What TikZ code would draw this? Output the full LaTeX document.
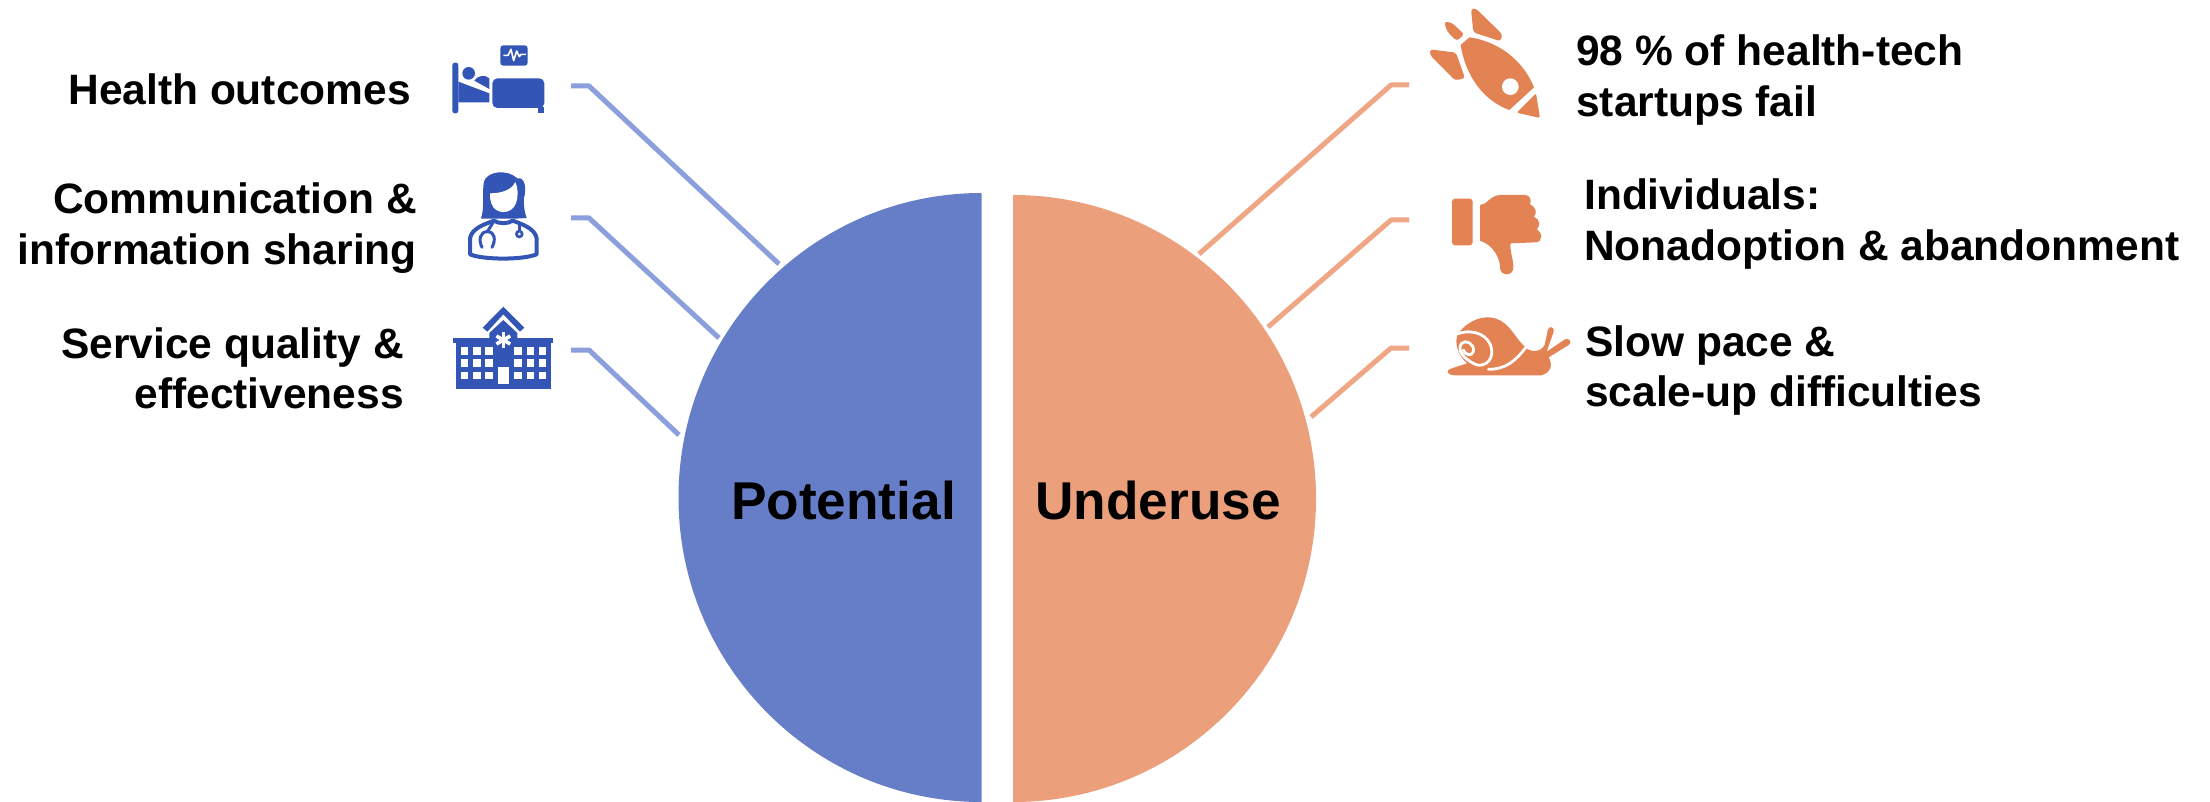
\documentclass[tikz,border=0pt]{standalone}
\usepackage{fontspec}
\setmainfont{Liberation Sans}
\definecolor{blueC}{RGB}{102,126,200}
\definecolor{orangeC}{RGB}{235,159,123}
\definecolor{blueI}{RGB}{51,85,181}
\definecolor{orangeI}{RGB}{227,130,83}
\definecolor{blueL}{RGB}{138,159,219}
\definecolor{orangeL}{RGB}{239,166,133}
\tikzset{
  lblue/.style={draw=blueL,line width=5pt,line join=round},
  lorange/.style={draw=orangeL,line width=5pt,line join=round},
  lab/.style={font=\bfseries\fontsize{42.5}{50.5}\selectfont,text=black,inner sep=0pt},
  big/.style={font=\bfseries\fontsize{53.2}{60}\selectfont,text=black,inner sep=0pt},
  zb/.style={shift={(#1)},x=0.3333pt,y=-0.3333pt},
}
\begin{document}
\begin{tikzpicture}[x=1pt,y=-1pt]
\useasboundingbox (0,0) rectangle (2210,802);
\fill[white] (0,0) rectangle (2210,802);
% half circles
\fill[blueC] (981.5,193) arc[start angle=-90,end angle=-270,x radius=303,y radius=304.5] -- cycle;
\fill[orangeC] (1013,195) arc[start angle=-90,end angle=90,x radius=303,y radius=303.5] -- cycle;
\node[big,anchor=center] (pot) at (843.5,500) {Potential};
\node[big,anchor=center] (und) at (1158,500) {Underuse};
% connectors
\coordinate (a1) at (571,86); \coordinate (a2) at (589,86); \coordinate (a3) at (779,264);
\coordinate (b1) at (571,218); \coordinate (b2) at (589,218); \coordinate (b3) at (719,338);
\coordinate (c1) at (571,350); \coordinate (c2) at (589,350); \coordinate (c3) at (679,435);
\coordinate (d1) at (1409,85); \coordinate (d2) at (1391,85); \coordinate (d3) at (1199,254);
\coordinate (e1) at (1409,220); \coordinate (e2) at (1391,220); \coordinate (e3) at (1268,327);
\coordinate (f1) at (1409,348); \coordinate (f2) at (1391,348); \coordinate (f3) at (1311,417);
\draw[lblue] (a1) -- (a2) -- (a3);
\draw[lblue] (b1) -- (b2) -- (b3);
\draw[lblue] (c1) -- (c2) -- (c3);
\draw[lorange] (d1) -- (d2) -- (d3);
\draw[lorange] (e1) -- (e2) -- (e3);
\draw[lorange] (f1) -- (f2) -- (f3);
% labels
\node[lab,anchor=east,align=right] (t1) at (411,89) {Health outcomes};
\node[lab,anchor=east,align=right] (t2) at (417,228) {Communication \&\\information sharing};
\node[lab,anchor=east,align=right] (t3) at (404,368.5) {Service quality \&\\effectiveness};
\node[lab,anchor=west,align=left] (t4) at (1576,80) {98 \% of health-tech\\startups fail};
\node[lab,anchor=west,align=left] (t5) at (1584,224) {Individuals:\\Nonadoption \& abandonment};
\node[lab,anchor=west,align=left] (t6) at (1585,370.5) {Slow pace \&\\scale-up difficulties};
% bed icon
\begin{scope}[zb={430,40}]
\fill[blueI,rounded corners=3pt] (211,16) rectangle (293,77);
\draw[white,line width=1.6pt,line join=round] (220,46) -- (234,46) -- (243,28) -- (251,62) -- (260,33) -- (268,50) -- (273,43) -- (288,43);
\fill[blueI,rounded corners=2.5pt] (67,220) -- (67,68) -- (85,68) -- (85,220) -- cycle;
\fill[blueI] (85,125) -- (178,160) -- (178,187) -- (85,187) -- cycle;
\fill[blueI] (116,100) circle[radius=19];
\fill[blueI] (133,122) .. controls (140,108) and (165,102) .. (178,115) -- (178,147) -- cycle;
\fill[blueI,rounded corners=5pt] (187,204) -- (187,115) -- (343,115) -- (343,204) -- cycle;
\fill[blueI] (325,200) rectangle (343,220);
\end{scope}
% doctor icon
\begin{scope}[zb={430,160}]
\fill[blueI] (153,176) .. controls (165,140) and (155,100) .. (162,65) .. controls (170,35) and (230,25) .. (262,55) .. controls (285,50) and (290,85) .. (282,115) .. controls (280,140) and (285,160) .. (290,174) -- (255,176) -- (190,176) -- cycle;
\fill[white] (180,100) .. controls (215,100) and (245,90) .. (256,66) .. controls (265,85) and (265,110) .. (258,130) .. controls (245,165) and (195,165) .. (184,130) .. controls (180,118) and (180,110) .. (180,100) -- cycle;
\draw[blueI,line width=4pt,line join=round] (120,283) -- (120,235) .. controls (125,205) and (165,192) .. (192,182) .. controls (205,192) and (235,192) .. (248,182) .. controls (275,192) and (315,205) .. (320,235) -- (320,283) .. controls (280,300) and (160,300) .. (120,283) -- cycle;
\draw[blueI,line width=3pt,line cap=round] (190,186) -- (172,215);
\draw[blueI,line width=3pt,line cap=round] (156,262) .. controls (145,240) and (150,215) .. (172,215) .. controls (195,215) and (198,240) .. (186,262);
\draw[blueI,line width=3pt] (268,186) -- (268,212);
\fill[blueI] (268,222) circle[radius=13];
\fill[white] (268,222) circle[radius=4.5];
\end{scope}
% hospital icon
\begin{scope}[zb={430,295}]
\fill[blueI] (158,98) -- (220,35) -- (283,98) -- (270,110) -- (220,58) -- (172,110) -- cycle;
\fill[blueI] (178,130) -- (178,114) -- (220,75) -- (262,114) -- (262,130) -- cycle;
\fill[blueI] (70,128) rectangle (370,143);
\fill[blueI] (78,143) rectangle (362,282);
\foreach \wx in {93,130,166,253,290,326}
  \foreach \wy in {157,193,230}
    \fill[white] (\wx,\wy) rectangle ++(22,22);
\fill[white] (205,216) rectangle (236,266);
\foreach \ang in {30,90,150}
  \draw[white,line width=3.6pt] (220,135) ++(\ang:24) -- ++(\ang+180:48);
\end{scope}
% rocket icon
\begin{scope}[zb={1410,0}]
\fill[orangeI] (178,112) .. controls (240,120) and (330,160) .. (372,262) -- (298,330) .. controls (215,300) and (165,220) .. (152,135) -- cycle;
\fill[white] (301,260) circle[radius=25];
\fill[orangeI,rounded corners=2pt] (378,280) -- (390,354) -- (320,338) -- cycle;
\fill[orangeI,rounded corners=3pt] (183,27) -- (197,25) -- (277,103) -- (272,124) -- (190,97) -- cycle;
\fill[orangeI,rounded corners=3pt] (102,65) -- (125,68) -- (163,103) -- (140,123) -- (112,95) -- cycle;
\fill[orangeI,rounded corners=3pt] (60,148) -- (138,158) -- (165,235) -- (135,241) -- (60,165) -- cycle;
\end{scope}
% thumb icon
\begin{scope}[zb={1430,180}]
\fill[orangeI,rounded corners=3pt] (66,56) rectangle (128,196);
\fill[orangeI] (150,75) -- (165,70) .. controls (180,58) and (190,46) .. (210,45) -- (285,45) .. controls (300,45) and (305,60) .. (300,73) .. controls (318,80) and (322,100) .. (312,110) .. controls (330,118) and (332,138) .. (320,148) .. controls (338,155) and (340,185) .. (318,187) -- (242,190) .. controls (238,210) and (250,235) .. (250,262) .. controls (250,290) and (210,290) .. (210,262) .. controls (210,235) and (190,195) .. (150,182) -- cycle;
\end{scope}
% snail icon
\begin{scope}[zb={1430,300}]
\fill[orangeI] (85,100) .. controls (115,60) and (160,45) .. (195,55) .. controls (240,68) and (255,115) .. (287,143) .. controls (300,155) and (330,160) .. (344,135) -- (354,88) .. controls (358,76) and (375,82) .. (371,95) -- (350,155) -- (405,118) .. controls (418,112) and (428,128) .. (416,135) -- (356,172) .. controls (368,195) and (365,215) .. (335,226) -- (75,226) .. controls (50,225) and (45,212) .. (65,205) -- (112,190) .. controls (85,170) and (70,125) .. (85,100) -- cycle;
\draw[white,line width=2.8pt,line cap=round] (84,101) .. controls (130,85) and (180,105) .. (185,150) .. controls (190,190) and (150,205) .. (130,190) .. controls (100,175) and (80,150) .. (95,130) .. controls (105,118) and (135,130) .. (130,155) .. controls (125,170) and (105,165) .. (100,150);
\draw[white,line width=2.8pt,line cap=round] (287,143) .. controls (255,185) and (225,208) .. (175,208);
\end{scope}
\end{tikzpicture}
\end{document}
